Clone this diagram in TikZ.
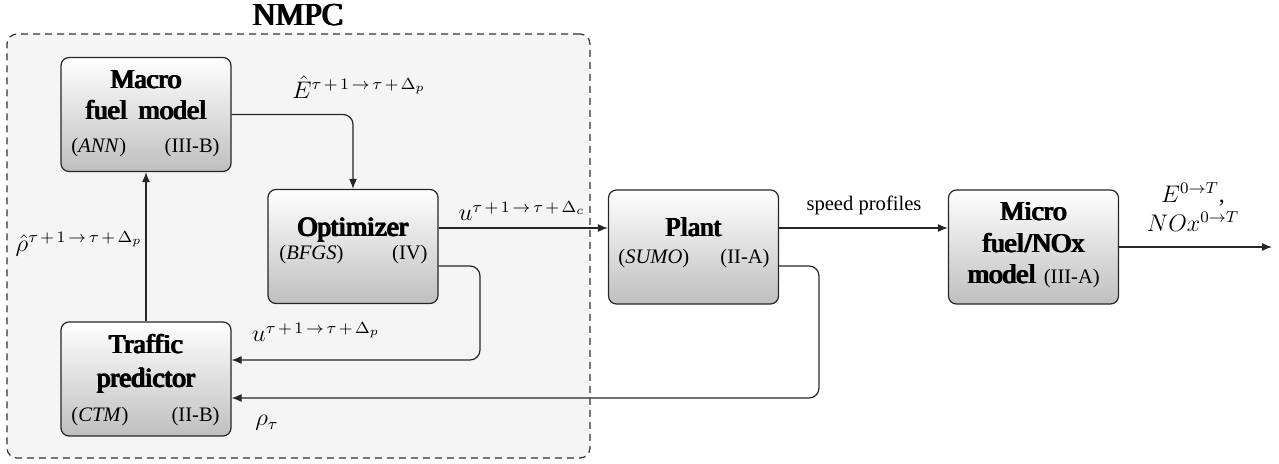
\documentclass[tikz,border=0pt]{standalone}
\usepackage{graphicx}
\usepackage{fontspec}
\setmainfont{Liberation Serif}
\usetikzlibrary{arrows.meta,calc}
\newcommand{\myhor}{\tau\mskip2.5mu{+}\mskip2.5mu 1\mskip3mu{\rightarrow}\mskip3mu\tau\mskip2.5mu{+}\mskip2.5mu\Delta}
\newcommand{\mystr}[1]{\scalebox{1.04}[1]{#1}}
\newcommand{\fb}[1]{\rlap{#1}\kern0.45pt\rlap{#1}\rlap{\raisebox{0.3pt}{#1}}\kern0.45pt#1}
\begin{document}
\begin{tikzpicture}[x=0.5pt,y=-0.5pt,
 blk/.style={draw=black!85, line width=0.6pt, rounded corners=4pt, top color=white, bottom color=black!25, minimum width=85pt, minimum height=57pt, inner sep=0pt},
 ttl/.style={font=\fontsize{13.6}{15}\selectfont, text=black, anchor=base, inner sep=0pt},
 sub/.style={font=\fontsize{10.3}{12}\selectfont, anchor=base, inner sep=0pt},
 lbl/.style={font=\fontsize{12}{14.5}\selectfont, inner sep=0pt},
 conn/.style={draw=black!85, line width=0.6pt, rounded corners=5pt, -{Latex[length=5pt,width=4pt]}},
]
\useasboundingbox (0,0) rectangle (1279,464);
\node[draw=black!80, dash pattern=on 3.5pt off 2.5pt, line width=0.6pt, fill=black!4, rounded corners=5pt, minimum width=291.5pt, minimum height=212pt, inner sep=0pt] (nmpc) at (298.5,246) {};
\node[font=\fontsize{16}{18}\selectfont, text=black, inner sep=0pt] (title) at (298,15) {\fb{NMPC}};

\node[blk] (macro) at (146,114.5) {};
\node[blk] (opt) at (353,246.5) {};
\node[blk] (traffic) at (146,379) {};
\node[blk] (plant) at (693.5,247) {};
\node[blk] (micro) at (1033.5,247) {};

\node[ttl] (macroA) at (146,89) {\fb{Macro}};
\node[ttl] (macroB) at (146,120) {\fb{fuel\ \,model}};
\node[sub, anchor=base west] (macroC) at (71,153) {(\textit{ANN})};
\node[sub, anchor=base east] (macroD) at (220,153) {(III-B)};

\node[ttl] (optA) at (353,236.5) {\fb{Optimizer}};
\node[sub, anchor=base west] (optB) at (279,260) {(\textit{BFGS})};
\node[sub, anchor=base east] (optC) at (428,260) {(IV)};

\node[ttl] (trA) at (146,354) {\fb{Traffic}};
\node[ttl] (trB) at (146,387) {\fb{predictor}};
\node[sub, anchor=base west] (trC) at (71,422) {(\textit{CTM})};
\node[sub, anchor=base east] (trD) at (220,422) {(II-B)};

\node[ttl] (plA) at (693.5,237) {\fb{Plant}};
\node[sub, anchor=base west] (plB) at (618,264) {(\textit{SUMO})};
\node[sub, anchor=base east] (plC) at (770,264) {(II-A)};

\node[ttl] (miA) at (1033.5,221) {\fb{Micro}};
\node[ttl] (miB) at (1033.5,253) {\fb{fuel/NOx}};
\node[ttl] (miC) at (1033.5,284) {\fb{model} {\fontsize{10.3}{12}\selectfont(III-A)}};

\coordinate (ulev) at (0,228);
\coordinate (yA) at (0,266);
\coordinate (fbA) at (480,360);
\coordinate (fbB) at (819,398);
\coordinate (outE) at (1272,247);

\draw[conn] (macro.east) -| (opt.north);
\draw[conn] (opt.east |- ulev) -- (plant.west |- ulev);
\draw[conn] (plant.east |- ulev) -- (micro.west |- ulev);
\draw[conn] (micro.east) -- (outE);
\draw[conn] (traffic.north) -- (macro.south);
\draw[conn] (opt.east |- yA) -| (fbA) -- (traffic.east |- fbA);
\draw[conn] (plant.east |- yA) -| (fbB) -- (traffic.east |- fbB);

\node[lbl] (lE) at (359,87) {\mystr{$\hat{E}^{\myhor_p}$}};
\node[lbl] (lu1) at (522,211) {\mystr{$u^{\myhor_c}$}};
\node[lbl] (lrho) at (79,244) {\mystr{$\hat{\rho}^{\myhor_p}$}};
\node[lbl] (lu2) at (316,332) {\mystr{$u^{\myhor_p}$}};
\node[lbl] (lrt) at (267,423) {\mystr{$\rho_\tau$}};
\node[sub, anchor=center] (lsp) at (864,205) {speed profiles};
\node[lbl, align=center] (lout) at (1193,207) {$E^{0\rightarrow T}$,\\$NOx^{0\rightarrow T}$};
\end{tikzpicture}
\end{document}
